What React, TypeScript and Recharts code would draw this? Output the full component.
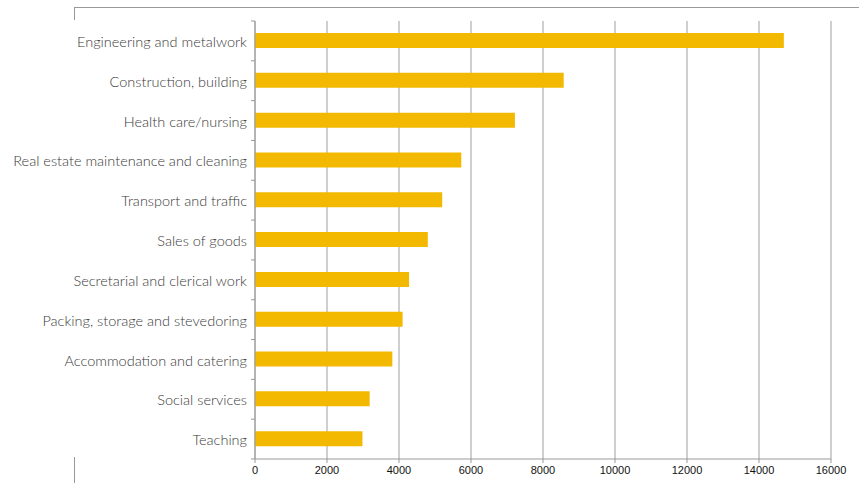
import React from 'react';
import { BarChart, Bar, XAxis, YAxis, CartesianGrid } from 'recharts';

const categories = [
  'Engineering and metalwork',
  'Construction, building',
  'Health care/nursing',
  'Real estate maintenance and cleaning',
  'Transport and traffic',
  'Sales of goods',
  'Secretarial and clerical work',
  'Packing, storage and stevedoring',
  'Accommodation and catering',
  'Social services',
  'Teaching',
];

const values = [14690, 8575, 7220, 5730, 5200, 4800, 4280, 4100, 3815, 3185, 2985];

const xTicks = [0, 2000, 4000, 6000, 8000, 10000, 12000, 14000, 16000];

const data = categories.map((name, i) => ({ name, value: values[i] }));

const W = 859;
const H = 483;
const TOP = 21;
const BOTTOM = 24;
const BAND = (H - TOP - BOTTOM) / categories.length;

const CategoryTick = (props: any) => {
  const { x, y, payload, index } = props;
  const axisX = x + 8;
  return (
    <g>
      <line x1={axisX - 4} x2={axisX} y1={y - BAND / 2} y2={y - BAND / 2} stroke="#999" />
      {index === categories.length - 1 && (
        <line x1={axisX - 4} x2={axisX} y1={y + BAND / 2} y2={y + BAND / 2} stroke="#999" />
      )}
      <text
        x={x}
        y={y + 1}
        dy="0.35em"
        textAnchor="end"
        fill="#3a3a3a"
        fontSize={14.5}
        fontFamily="Lato, sans-serif"
        fontWeight={300}
      >
        {payload.value}
      </text>
    </g>
  );
};

const ValueTick = (props: any) => {
  const { x, y, payload } = props;
  return (
    <text
      x={x}
      y={y}
      dy="0.75em"
      textAnchor="middle"
      fill="#111"
      fontSize={11}
      style={{ fontFamily: "'Liberation Sans', Arial, sans-serif" }}
    >
      {payload.value}
    </text>
  );
};

const App: React.FC = () => {
  return (
    <div style={{ position: 'absolute', left: 0, top: 0, width: W, height: H, background: '#fff' }}>
      {/* frame bits */}
      <div style={{ position: 'absolute', left: 74, top: 7, width: W - 74, height: 1, background: '#999' }} />
      <div style={{ position: 'absolute', left: 74, top: 7, width: 1, height: 13, background: '#999' }} />
      <div style={{ position: 'absolute', left: 74, top: 457, width: 1, height: 26, background: '#999' }} />
      <BarChart
        width={W}
        height={H}
        data={data}
        layout="vertical"
        margin={{ top: TOP, right: 28, left: 0, bottom: 0 }}
      >
        <CartesianGrid horizontal={false} stroke="#b5b5b5" strokeWidth={1.3} />
        <XAxis
          type="number"
          domain={[0, 16000]}
          ticks={xTicks}
          height={BOTTOM}
          axisLine={{ stroke: '#999' }}
          tickLine={{ stroke: '#999' }}
          tickSize={4}
          tickMargin={3}
          tick={<ValueTick />}
        />
        <YAxis
          type="category"
          dataKey="name"
          width={255}
          axisLine={{ stroke: '#999' }}
          tickLine={false}
          tickSize={4}
          tickMargin={4}
          interval={0}
          tick={<CategoryTick />}
        />
        <Bar dataKey="value" fill="#F2B900" barSize={15} isAnimationActive={false} />
      </BarChart>
    </div>
  );
};

export default App;
